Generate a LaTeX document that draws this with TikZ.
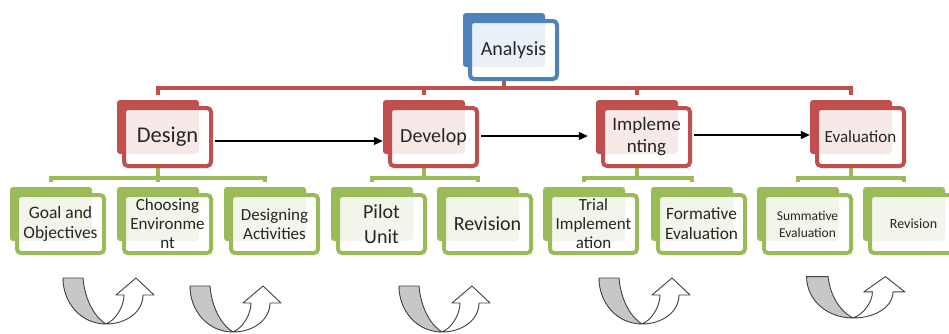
\documentclass[tikz,border=0pt]{standalone}
\usepackage{fontspec}
\setmainfont{Carlito}
\usetikzlibrary{arrows.meta,calc,backgrounds}
\definecolor{redB}{HTML}{C0504D}
\definecolor{redT}{HTML}{F6E9E8}
\definecolor{blueB}{HTML}{4F81BD}
\definecolor{blueT}{HTML}{EAF0F8}
\definecolor{greenB}{HTML}{9BBB59}
\definecolor{greenT}{HTML}{F2F6EA}

\begin{document}
\begin{tikzpicture}[x=1pt,y=1pt,
    >={Triangle[length=9pt,width=8pt]},
    box/.style={draw=#1B,fill=white,line width=4pt,rounded corners=4pt,
      minimum width=87pt,minimum height=58pt,inner sep=0pt,align=center,
      text=black!85,
      path picture={\fill[#1T](path picture bounding box.north west)
        rectangle ($(path picture bounding box.center)+(31.5,-17)$);}},
    back/.style={fill=#1B,rounded corners=3pt,minimum width=82pt,
      minimum height=54pt,inner sep=0pt},
    fsz/.style 2 args={font=\fontsize{#1}{#2}\selectfont},
    link/.style={draw=#1B,line width=4pt,shorten >=5pt},
    flow/.style={->,line width=1.2pt,shorten <=2pt},
    curl/.pic={
      \filldraw[fill=black!22,draw=black!75,line width=.9pt,line join=round]
        (-43,46) .. controls (-43,20) and (-24,0) .. (0,0)
        .. controls (-10,6) and (-21,22) .. (-23,46) -- cycle;
      \filldraw[fill=white,draw=black!75,line width=.9pt,line join=round]
        (0,0) .. controls (20,0) and (37,12) .. (37,29) -- (48,29) -- (30,46)
        -- (10,29) -- (18,29) .. controls (18,18) and (10,4) .. (0,0) -- cycle;
    }]
  \useasboundingbox (0,0) rectangle (949,333);
  % phases
  \node[box=blue,fsz={20}{23}] (ana) at (513.5,283) {Analysis};
  \node[box=red,fsz={22.5}{26}] (dsg) at (167.5,196) {Design};
  \node[box=red,fsz={20}{23}] (dev) at (433.5,196) {Develop};
  \node[box=red,fsz={19}{22}] (imp) at (646.5,196) {Impleme\\nting};
  \node[box=red,fsz={17}{20}] (eva) at (860.5,196) {Evaluation};
  % steps
  \node[box=green,fsz={17.5}{19.5}] (goal) at (60.5,109) {Goal and\\Objectives};
  \node[box=green,fsz={17}{19}] (env) at (167.5,109) {Choosing\\Environme\\nt};
  \node[box=green,fsz={17}{19.5}] (act) at (274.5,109) {Designing\\Activities};
  \node[box=green,fsz={20}{25}] (pilot) at (381.5,109) {Pilot\\Unit};
  \node[box=green,fsz={20}{24}] (rev) at (487.5,109) {Revision};
  \node[box=green,fsz={17}{19}] (trial) at (593.5,109) {Trial\\Implement\\ation};
  \node[box=green,fsz={17.3}{20}] (form) at (701.5,109) {Formative\\Evaluation};
  \node[box=green,fsz={13.5}{17}] (summ) at (807.5,109) {Summative\\Evaluation};
  \node[box=green,fsz={14}{17}] (revb) at (913.5,109) {Revision};
  \begin{scope}[on background layer]
    \foreach \n/\c in {ana/blue,dsg/red,dev/red,imp/red,eva/red,goal/green,
      env/green,act/green,pilot/green,rev/green,trial/green,form/green,
      summ/green,revb/green}
      \node[back=\c] (\n-bk) at ($(\n.center)+(-9.5,10)$) {};
    \foreach \k in {dsg,dev,imp,eva}
      \draw[link=red] (ana-bk.south |- ana.south) -- ++(0,-7) -| (\k-bk.north);
    \foreach \p/\k in {dsg/goal,dsg/env,dsg/act,dev/pilot,dev/rev,imp/trial,
      imp/form,eva/summ,eva/revb}
      \draw[link=green] (\p-bk.south |- \p.south) -- ++(0,-10) -| (\k-bk.north);
  \end{scope}
  \draw[flow] ($(dsg.east)+(0,-4)$) -- ($(dsg.east -| dev-bk.west)+(0,-4)$);
  \draw[flow,shorten >=8pt] ($(dev.east)+(0,1)$) -- ($(dev.east -| imp-bk.west)+(0,1)$);
  \draw[flow] ($(imp.east)+(0,2)$) -- ($(imp.east -| eva-bk.west)+(0,2)$);
  % turn arrows
  \pic at (106,9) {curl};
  \pic at (233,1) {curl};
  \pic at (442,1) {curl};
  \pic at (642,9) {curl};
  \pic[xscale=1.08,yscale=.9] at (853,15) {curl};
\end{tikzpicture}
\end{document}
